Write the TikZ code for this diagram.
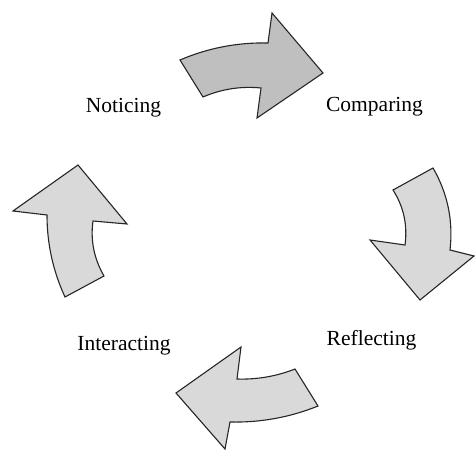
\documentclass[tikz,border=0pt]{standalone}
\usepackage{fontspec}
\usetikzlibrary{calc}
\setmainfont{Liberation Serif}
% quadratic arc from #1 to #3 with control point #2, written as a cubic
\newcommand{\qarc}[3]{.. controls ($#1!2/3!#2$) and ($#3!2/3!#2$) .. #3}
\begin{document}
\begin{tikzpicture}[x=1bp,y=-1bp,
  cyclearrow/.style={draw=black!85,line width=1.1bp,line join=miter,fill=black!15},
  activearrow/.style={cyclearrow,fill=black!25},
  stagelabel/.style={anchor=base,inner sep=0pt,font=\fontsize{21.5bp}{24bp}\selectfont}]
\useasboundingbox (0,0) rectangle (475,450);

% Noticing -> Comparing
\draw[activearrow] (180,60) \qarc{(180,60)}{(222,42)}{(268,43)} -- (272,13) -- (323,73)
  -- (257,118) -- (261,88) \qarc{(261,88)}{(231,85)}{(203,97)} -- cycle;

% Comparing -> Reflecting
\draw[cyclearrow] (393,190) -- (433,168) \qarc{(433,168)}{(455,206)}{(450,250)} -- (474,256)
  -- (420,300) -- (370,240) -- (405,245) \qarc{(405,245)}{(409,215)}{(393,190)} -- cycle;

% Reflecting -> Interacting
\draw[cyclearrow] (295,369) \qarc{(295,369)}{(267,380)}{(237,379)} -- (241,347) -- (176,393)
  -- (225,449) -- (230,422) \qarc{(230,422)}{(276,423)}{(318,406)} -- cycle;

% Interacting -> Noticing
\draw[cyclearrow] (65,297) -- (104,276) \qarc{(104,276)}{(89,250)}{(93,221)} -- (127,224)
  -- (78,165) -- (13,211) -- (47,215) \qarc{(47,215)}{(47,258)}{(65,297)} -- cycle;

\node[stagelabel] (noticing)    at (123.5,113) {Noticing};
\node[stagelabel] (comparing)   at (374.5,112) {Comparing};
\node[stagelabel] (reflecting)  at (371.5,345) {Reflecting};
\node[stagelabel] (interacting) at (124,350)   {Interacting};
\end{tikzpicture}
\end{document}
